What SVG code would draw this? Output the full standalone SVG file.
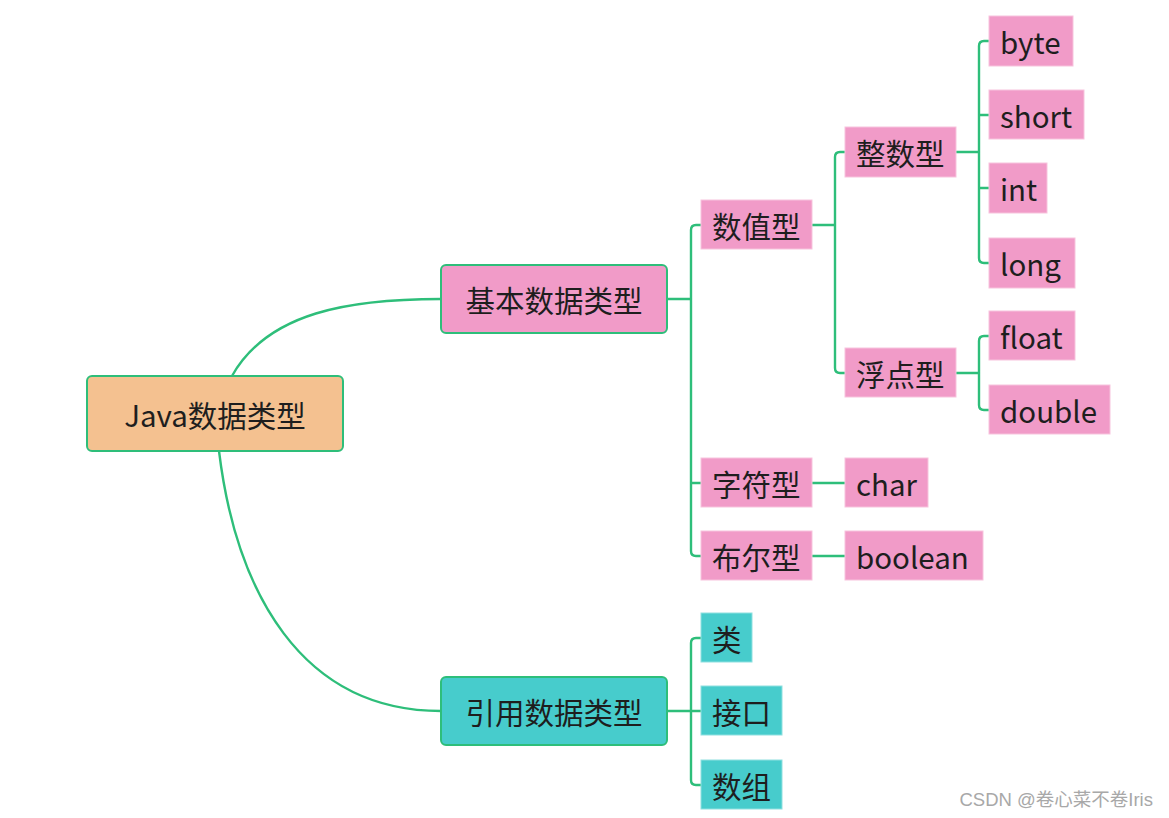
<svg xmlns="http://www.w3.org/2000/svg" width="1169" height="818" viewBox="0 0 1169 818">
<style>
text{font-family:"Noto Sans CJK SC","Noto Sans",sans-serif;font-size:29.5px;fill:#1e1e1e;dominant-baseline:central}
.pk{fill:#F19BC8;stroke:#F7C3DD;stroke-width:1}
.tl{fill:#47CCCC;stroke:#8FE0E0;stroke-width:1}
.c{fill:none;stroke:#2EBE7A;stroke-width:2.4;stroke-linecap:round}
.mid{text-anchor:middle}
</style>
<rect width="1169" height="818" fill="#ffffff"/>
<g id="connectors">
<path class="c" d="M232,376 C268,312 350,299 441,299"/>
<path class="c" d="M219,451 C236,590 300,711 441,711"/>
<path class="c" d="M667,299 H691 M701,225 H696 Q691,225 691,230 V551 Q691,556 696,556 H701 M691,483 H701"/>
<path class="c" d="M812,225 H835 M845,152 H840 Q835,152 835,157 V368 Q835,373 840,373 H845"/>
<path class="c" d="M956,152 H979 M989,41 H984 Q979,41 979,46 V258 Q979,263 984,263 H989 M979,115 H989 M979,188 H989"/>
<path class="c" d="M956,373 H979 M989,336 H984 Q979,336 979,341 V405 Q979,410 984,410 H989"/>
<path class="c" d="M812,483 H845"/>
<path class="c" d="M812,556 H845"/>
<path class="c" d="M667,711 H691 M701,638 H696 Q691,638 691,643 V780 Q691,785 696,785 H701 M691,711 H701"/>
</g>
<g id="root"><rect x="87" y="376" width="256" height="75" rx="5" fill="#F4C190" stroke="#2EBE7A" stroke-width="2"/><text class="mid" x="215" y="414">Java数据类型</text></g>
<g id="basic"><rect x="441" y="265" width="226" height="68" rx="5" fill="#F19BC8" stroke="#2EBE7A" stroke-width="2"/><text class="mid" x="554" y="299">基本数据类型</text></g>
<g id="ref"><rect x="441" y="677" width="226" height="68" rx="5" fill="#47CCCC" stroke="#2EBE7A" stroke-width="2"/><text class="mid" x="554" y="711">引用数据类型</text></g>
<g id="numeric"><rect class="pk" x="701" y="200" width="111" height="49"/><text x="712" y="225">数值型</text></g>
<g id="integer"><rect class="pk" x="845" y="127" width="111" height="50"/><text x="856" y="152">整数型</text></g>
<g id="floating"><rect class="pk" x="845" y="348" width="111" height="49"/><text x="856" y="373">浮点型</text></g>
<g id="byte"><rect class="pk" x="989" y="16" width="84" height="50"/><text x="1000" y="41">byte</text></g>
<g id="short"><rect class="pk" x="989" y="90" width="95" height="49"/><text x="1000" y="115">short</text></g>
<g id="int"><rect class="pk" x="989" y="163" width="58" height="50"/><text x="1000" y="188">int</text></g>
<g id="long"><rect class="pk" x="989" y="238" width="86" height="50"/><text x="1000" y="263">long</text></g>
<g id="float"><rect class="pk" x="989" y="311" width="86" height="49"/><text x="1000" y="336">float</text></g>
<g id="double"><rect class="pk" x="989" y="385" width="121" height="49"/><text x="1000" y="410">double</text></g>
<g id="chartype"><rect class="pk" x="701" y="458" width="111" height="49"/><text x="712" y="483">字符型</text></g>
<g id="char"><rect class="pk" x="845" y="458" width="83" height="49"/><text x="856" y="483">char</text></g>
<g id="booltype"><rect class="pk" x="701" y="531" width="111" height="49"/><text x="712" y="556">布尔型</text></g>
<g id="boolean"><rect class="pk" x="845" y="531" width="138" height="49"/><text x="856" y="556">boolean</text></g>
<g id="class"><rect class="tl" x="701" y="613" width="51" height="49"/><text x="712" y="638">类</text></g>
<g id="interface"><rect class="tl" x="701" y="686" width="81" height="49"/><text x="712" y="711">接口</text></g>
<g id="array"><rect class="tl" x="701" y="760" width="81" height="49"/><text x="712" y="785">数组</text></g>
<text x="1153" y="799" style="font-size:18.5px;fill:#a8a8a8;text-anchor:end;font-family:'Liberation Sans','Noto Sans CJK SC',sans-serif">CSDN @卷心菜不卷Iris</text>
</svg>
